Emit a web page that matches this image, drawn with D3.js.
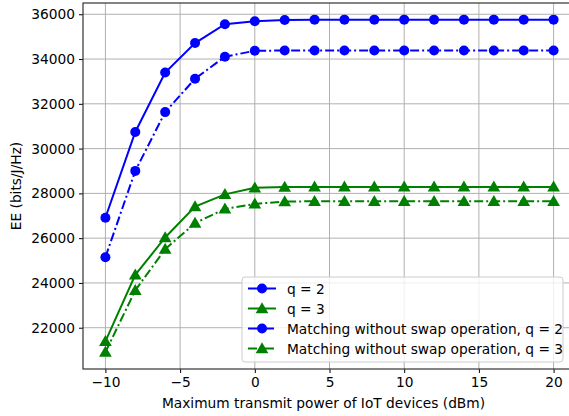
<!DOCTYPE html>
<html>
<head>
<meta charset="utf-8">
<script src="https://cdn.jsdelivr.net/npm/d3@7"></script>
<style>
    body { margin: 0; background: #fff; }
    svg text { font-family: "DejaVu Sans", sans-serif; fill: #000; }
</style>
</head>
<body>
<div id="chart"></div>
<script>
// transmit power (dBm)
const power = [-10, -8, -6, -4, -2, 0, 2, 4, 6, 8, 10, 12, 14, 16, 18, 20];

// EE values
const eeQ2 = [26910, 30745, 33400, 34715, 35555, 35690, 35745, 35760, 35760, 35760, 35760, 35760, 35760, 35760, 35760, 35760];
const eeQ3 = [21390, 24360, 26030, 27410, 27955, 28250, 28280, 28290, 28290, 28290, 28290, 28290, 28290, 28290, 28290, 28290];
const eeNoSwapQ2 = [25150, 29005, 31630, 33120, 34105, 34370, 34380, 34380, 34380, 34380, 34380, 34380, 34380, 34380, 34380, 34380];
const eeNoSwapQ3 = [20910, 23670, 25510, 26670, 27310, 27530, 27635, 27650, 27650, 27650, 27650, 27650, 27650, 27650, 27650, 27650];

const xTicks = [-10, -5, 0, 5, 10, 15, 20];
const yTicks = [22000, 24000, 26000, 28000, 30000, 32000, 34000, 36000];

const seriesNames = ["q = 2", "q = 3", "Matching without swap operation, q = 2", "Matching without swap operation, q = 3"];

let series = [
    {name: seriesNames[0], values: eeQ2, color: "#0000ff", marker: "circle", dash: null},
    {name: seriesNames[1], values: eeQ3, color: "#008000", marker: "triangle", dash: null},
    {name: seriesNames[2], values: eeNoSwapQ2, color: "#0000ff", marker: "circle", dash: "9,3,2,3"},
    {name: seriesNames[3], values: eeNoSwapQ3, color: "#008000", marker: "triangle", dash: "9,3,2,3"}
];

const W = 569, H = 416;
const FS = "13.75px";
let margin = {top: 3, left: 83, bottom: 47};
let plotW = 493, plotH = H - margin.top - margin.bottom;

let svg = d3.select("#chart").append("svg")
    .attr("width", W)
    .attr("height", H);

let x = d3.scaleLinear().domain([-11.5, 21.5]).range([margin.left, margin.left + plotW]);
let y = d3.scaleLinear().domain([20157, 36503]).range([H - margin.bottom, margin.top]);

// grid
svg.append("g").selectAll("line.gx")
    .data(xTicks).enter().append("line")
    .attr("x1", d => x(d)).attr("x2", d => x(d))
    .attr("y1", margin.top).attr("y2", H - margin.bottom)
    .attr("stroke", "#b0b0b0").attr("stroke-width", 1);

svg.append("g").selectAll("line.gy")
    .data(yTicks).enter().append("line")
    .attr("x1", margin.left).attr("x2", margin.left + plotW)
    .attr("y1", d => y(d)).attr("y2", d => y(d))
    .attr("stroke", "#b0b0b0").attr("stroke-width", 1);

// axes
let xAxis = d3.axisBottom(x).tickValues(xTicks).tickSize(4).tickPadding(4)
    .tickFormat(d => d < 0 ? "\u2212" + Math.abs(d) : d);
let yAxis = d3.axisLeft(y).tickValues(yTicks).tickSize(4).tickPadding(4)
    .tickFormat(d3.format("d"));

let gx = svg.append("g")
    .attr("transform", `translate(0, ${H - margin.bottom})`)
    .call(xAxis);
let gy = svg.append("g")
    .attr("transform", `translate(${margin.left}, 0)`)
    .call(yAxis);

[gx, gy].forEach(g => {
    g.select(".domain").remove();
    g.selectAll("line").attr("stroke", "#000").attr("stroke-width", 1);
    g.selectAll("text").style("font-size", FS).style("font-family", "DejaVu Sans");
});

// frame
svg.append("rect")
    .attr("x", margin.left).attr("y", margin.top)
    .attr("width", plotW).attr("height", plotH)
    .attr("fill", "none").attr("stroke", "#333").attr("stroke-width", 1.2);

// lines + markers
let line = d3.line()
    .x((d, i) => x(power[i]))
    .y(d => y(d));

let tri = d3.symbol().type(d3.symbolTriangle).size(70);

function drawMarker(g, s, cx, cy) {
    if (s.marker === "circle") {
        g.append("circle").attr("cx", cx).attr("cy", cy).attr("r", 5).attr("fill", s.color);
    } else {
        g.append("path").attr("d", tri).attr("transform", `translate(${cx}, ${cy + 1})`).attr("fill", s.color);
    }
}

let plot = svg.append("g");
series.forEach(s => {
    plot.append("path")
        .datum(s.values)
        .attr("d", line)
        .attr("fill", "none")
        .attr("stroke", s.color)
        .attr("stroke-width", 2)
        .attr("stroke-dasharray", s.dash);
    let mg = plot.append("g");
    s.values.forEach((v, i) => drawMarker(mg, s, x(power[i]), y(v)));
});

// legend
let lg = svg.append("g").attr("transform", "translate(242, 277)");
lg.append("rect")
    .attr("width", 321).attr("height", 85).attr("rx", 3)
    .attr("fill", "#fff").attr("fill-opacity", 0.8)
    .attr("stroke", "#ccc").attr("stroke-width", 1);

series.forEach((s, i) => {
    let ry = 11.5 + i * 20;
    lg.append("line")
        .attr("x1", 6).attr("x2", 34)
        .attr("y1", ry).attr("y2", ry)
        .attr("stroke", s.color).attr("stroke-width", 2)
        .attr("stroke-dasharray", s.dash);
    drawMarker(lg, s, 20, ry);
    lg.append("text")
        .attr("x", 45).attr("y", ry + 5)
        .style("font-size", FS)
        .text(s.name);
});

// axis labels
svg.append("text")
    .attr("x", margin.left + plotW / 2 - 6).attr("y", 408)
    .attr("text-anchor", "middle")
    .style("font-size", FS)
    .text("Maximum transmit power of IoT devices (dBm)");

svg.append("text")
    .attr("transform", `translate(21, ${margin.top + plotH / 2}) rotate(-90)`)
    .attr("text-anchor", "middle")
    .style("font-size", FS)
    .text("EE (bits/J/Hz)");
</script>
</body>
</html>
